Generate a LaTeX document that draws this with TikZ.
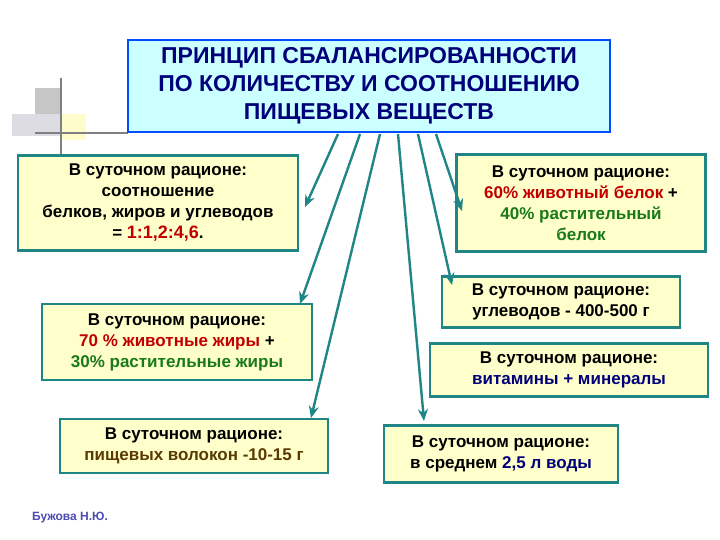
\documentclass[tikz,border=0pt]{standalone}
\usepackage{fontspec}
\setmainfont{Liberation Sans}
\usetikzlibrary{arrows.meta}
\definecolor{teal1}{HTML}{1F8585}
\definecolor{boxy}{HTML}{FFFFCC}
\definecolor{cy}{HTML}{CCFFFF}
\definecolor{navy1}{HTML}{00007A}
\definecolor{red1}{HTML}{C00000}
\definecolor{grn1}{HTML}{1A7A1A}
\definecolor{brn1}{HTML}{5A3A00}
\begin{document}
\begin{tikzpicture}[x=1pt,y=-1pt,
  bx/.style={draw=teal1,line width=2.8pt,fill=boxy,inner sep=0pt,align=center,font=\bfseries\fontsize{17}{21}\selectfont},
  conn/.style={draw=teal1,line width=2.4pt,-{Stealth[length=12pt,width=10pt]}}]
\useasboundingbox (0,0) rectangle (720,540);
\fill[white] (0,0) rectangle (720,540);
% decoration
\fill[gray!45] (35,88) rectangle (60,114);
\fill[blue!10!gray!25] (12,114) rectangle (60,136);
\fill[yellow!20] (60,114) rectangle (86,140);
\draw[gray,line width=1.5pt] (61,78) -- (61,160);
\draw[gray,line width=1.5pt] (35,133) -- (128,133);
% title
\node[draw=blue!70!cyan,line width=1.8pt,fill=cy,minimum width=482pt,minimum height=92pt,align=center,text=navy1,font=\bfseries\fontsize{23}{28}\selectfont] (t) at (369,86) {ПРИНЦИП СБАЛАНСИРОВАННОСТИ\\ПО КОЛИЧЕСТВУ И СООТНОШЕНИЮ\\ПИЩЕВЫХ ВЕЩЕСТВ};
\node[bx,minimum width=280pt,minimum height=95pt] (b1) at (158,203) {В суточном рационе:\\соотношение\\белков, жиров и углеводов\\= \textcolor{red1}{\fontsize{18}{21}\selectfont 1:1,2:4,6}.};
\node[bx,minimum width=249pt,minimum height=97pt] (b2) at (581,203) {В суточном рационе:\\\textcolor{red1}{60\% животный белок} +\\\textcolor{grn1}{40\% растительный}\\\textcolor{grn1}{белок}};
\node[bx,minimum width=238pt,minimum height=51pt] (b3) at (561,302) {В суточном рационе:\\углеводов - 400-500 г};
\node[bx,minimum width=270pt,minimum height=76pt] (b4) at (177,342) {В суточном рационе:\\\textcolor{red1}{70 \% животные жиры} +\\\textcolor{grn1}{30\% растительные жиры}};
\node[bx,minimum width=278pt,minimum height=53pt] (b5) at (569,370) {В суточном рационе:\\\textcolor{navy1}{витамины + минералы}};
\node[bx,minimum width=268pt,minimum height=54pt] (b6) at (194,446) {В суточном рационе:\\\textcolor{brn1}{пищевых волокон -10-15 г}};
\node[bx,minimum width=234pt,minimum height=57pt] (b7) at (501,454) {В суточном рационе:\\в среднем \textcolor{navy1}{2,5 л воды}};
% connectors
\coordinate (s1) at (338,134); \coordinate (e1) at (305,207);
\coordinate (s2) at (360,134); \coordinate (e2) at (300,304);
\coordinate (s3) at (380,134); \coordinate (e3) at (311,418);
\coordinate (s4) at (398,134); \coordinate (e4) at (424,421);
\coordinate (s5) at (418,134); \coordinate (e5) at (452,285);
\coordinate (s6) at (436,134); \coordinate (e6) at (462,211);
\foreach \i in {1,...,6} \draw[conn] (s\i) -- (e\i);
\node[text=blue!40!gray,font=\bfseries\fontsize{12}{13}\selectfont] (sig) at (70,518) {Бужова Н.Ю.};
\end{tikzpicture}
\end{document}
